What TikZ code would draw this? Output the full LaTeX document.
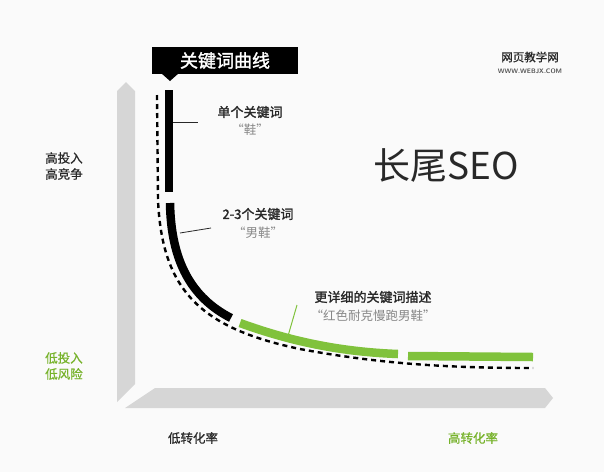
\documentclass[tikz,border=0pt]{standalone}
\usepackage{fontspec}
\newfontfamily\cjk{Noto Sans CJK SC}
\newfontfamily\cjkb[FakeBold=1.6]{Noto Sans CJK SC}
\newfontfamily\cjkm[FakeBold=0.8]{Noto Sans CJK SC}
\definecolor{axisgray}{RGB}{214,214,214}
\definecolor{lgreen}{RGB}{128,194,60}
\definecolor{tgreen}{RGB}{118,178,42}
\definecolor{qgray}{RGB}{135,135,135}
\definecolor{dark}{RGB}{40,40,40}
\tikzset{
  axisbar/.style={fill=axisgray, draw=none},
  blackseg/.style={line width=8.5pt, draw=black},
  greenseg/.style={line width=8.5pt, draw=lgreen},
  dashcurve/.style={line width=2.4pt, draw=black, dash pattern=on 5pt off 4pt},
  pointer/.style={line width=0.8pt, draw=dark},
  head/.style={font=\cjkb\fontsize{13}{15}\selectfont, text=dark, inner sep=0pt},
  quote/.style={font=\cjk\fontsize{12.5}{14}\selectfont, text=qgray, inner sep=0pt},
  sidelab/.style={font=\cjkm\fontsize{12.5}{16}\selectfont, align=left, inner sep=0pt},
}
\begin{document}
\begin{tikzpicture}[x=1pt,y=-1pt]
\useasboundingbox (0,0) rectangle (604,472);
\fill[white!98!black] (0,0) rectangle (604,472);

% axes
\fill[axisbar] (117,91) -- (126,82) -- (135,91) -- (135,384) -- (117,402) -- cycle;
\fill[axisbar] (155,388) -- (545,388) -- (553,398) -- (545,408) -- (125,408) -- cycle;

% title box
\node[fill=black, text=white, font=\cjkb\fontsize{18}{20}\selectfont, minimum width=146pt, minimum height=27pt, inner sep=0pt] (title) at (225,60.5) {关键词曲线};
\fill[black] (161,73) -- (179,73) -- (170,81) -- cycle;

% dashed curve
\draw[dashcurve] (157,95) -- (158,200) .. controls (162,290) and (200,328) .. (300,349) .. controls (380,364) and (450,368) .. (533,368);

% main curve segments
\draw[blackseg] (169,90) -- (169,192);
\draw[blackseg] (170,203) .. controls (171,262) and (192,298) .. (231,318);
\draw[greenseg] (240,323) .. controls (295,343) and (345,352) .. (398,354);
\draw[greenseg] (408,356) -- (533,357);

% anchor coordinates on curve
\coordinate (c1) at (173,122);
\coordinate (c2) at (180,233);
\coordinate (c3) at (288,336);

% labels
\node[head] (h1) at (250,112) {单个关键词};
\node[quote] (q1) at (250,130) {“鞋”};
\node[head] (h2) at (258,214) {2-3个关键词};
\node[quote] (q2) at (258,233) {“男鞋”};
\node[head] (h3) at (373,297) {更详细的关键词描述};
\node[quote] (q3) at (373,316) {“红色耐克慢跑男鞋”};

\coordinate (p1) at (198,122);
\coordinate (p2) at (211,228);
\coordinate (p3) at (297,305);
\draw[pointer] (c1) -- (p1);
\draw[pointer] (c2) -- (p2);
\draw[line width=1pt, draw=lgreen] (c3) -- (p3);

% side labels
\node[sidelab, text=dark, anchor=west] (hi) at (45,166) {高投入\\高竞争};
\node[sidelab, text=tgreen, anchor=west] (lo) at (45,366) {低投入\\低风险};
\node[sidelab, text=dark] (lc) at (193,438) {低转化率};
\node[sidelab, text=tgreen] (hc) at (473,438) {高转化率};

% big title
\node[font=\cjk\fontsize{37}{40}\selectfont, text=dark, inner sep=0pt] (seo) at (446,165) {长尾SEO};

% watermark
\node[font=\cjkm\fontsize{11.5}{13}\selectfont, text=dark, inner sep=0pt] (wm) at (530,57) {网页教学网};
\node[font=\sffamily\bfseries\fontsize{6.5}{8}\selectfont, text=dark!80, inner sep=0pt] (wm2) at (530,71) {WWW.WEBJX.COM};
\end{tikzpicture}
\end{document}
